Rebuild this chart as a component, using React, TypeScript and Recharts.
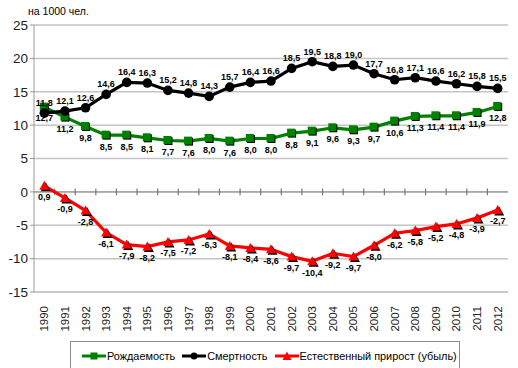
import { LineChart, Line, XAxis, YAxis, CartesianGrid, ReferenceLine, LabelList } from "recharts";

const years = [
  "1990", "1991", "1992", "1993", "1994", "1995", "1996", "1997", "1998", "1999", "2000", "2001",
  "2002", "2003", "2004", "2005", "2006", "2007", "2008", "2009", "2010", "2011", "2012",
];
const birth = [12.7, 11.2, 9.8, 8.5, 8.5, 8.1, 7.7, 7.6, 8.0, 7.6, 8.0, 8.0, 8.8, 9.1, 9.6, 9.3, 9.7, 10.6, 11.3, 11.4, 11.4, 11.9, 12.8];
const death = [11.8, 12.1, 12.6, 14.6, 16.4, 16.3, 15.2, 14.8, 14.3, 15.7, 16.4, 16.6, 18.5, 19.5, 18.8, 19.0, 17.7, 16.8, 17.1, 16.6, 16.2, 15.8, 15.5];
const natural = [0.9, -0.9, -2.8, -6.1, -7.9, -8.2, -7.5, -7.2, -6.3, -8.1, -8.4, -8.6, -9.7, -10.4, -9.2, -9.7, -8.0, -6.2, -5.8, -5.2, -4.8, -3.9, -2.7];
const yTicks = [-15, -10, -5, 0, 5, 10, 15, 20, 25];
const seriesNames = ["Рождаемость", "Смертность", "Естественный прирост (убыль)"];
const unitLabel = "на 1000 чел.";

const data = years.map((y, i) => ({ idx: i, year: y, birth: birth[i], death: death[i], natural: natural[i] }));
const xTicks = years.map((_, i) => i);

const GREEN = "#008000";
const RED = "#ff0000";
const FONT = "'Liberation Sans', Arial, sans-serif";

const fmt = (v: any) => Number(v).toFixed(1).replace(".", ",");

const SquareDot = (p: any) => {
  const { cx, cy } = p;
  if (cx == null || cy == null) return null;
  return (
    <g key={p.key}>
      <rect x={cx - 3.5} y={cy - 3.5} width={8} height={8} fill="#000" />
      <rect x={cx - 4.5} y={cy - 4.5} width={8} height={8} fill={GREEN} />
    </g>
  );
};

const CircleDot = (p: any) => {
  const { cx, cy } = p;
  if (cx == null || cy == null) return null;
  return <circle key={p.key} cx={cx} cy={cy} r={4.8} fill="#000" />;
};

const TriDot = (p: any) => {
  const { cx, cy } = p;
  if (cx == null || cy == null) return null;
  const tri = (x: number, y: number) => `${x},${y - 5} ${x + 5},${y + 4} ${x - 5},${y + 4}`;
  return (
    <g key={p.key}>
      <polygon points={tri(cx + 1.5, cy + 1.5)} fill="#000" />
      <polygon points={tri(cx, cy)} fill={RED} />
    </g>
  );
};

const YearTick = (p: any) => {
  const { x, y, payload } = p;
  return (
    <text
      x={x}
      y={y + 6}
      transform={`rotate(-90, ${x}, ${y + 6})`}
      textAnchor="end"
      dominantBaseline="central"
      fontSize={11.5}
      fontFamily={FONT}
      fill="#222"
    >
      {years[payload.value]}
    </text>
  );
};

const labelStyle = { fontSize: 9, fontWeight: 700, fontFamily: FONT, fill: "#000" };

function LegendBox() {
  const icon = (kind: string, color: string) => (
    <svg width={24} height={10} style={{ marginRight: 1 }}>
      <line x1={0} y1={5} x2={24} y2={5} stroke={color} strokeWidth={3} />
      {kind === "square" && <rect x={8.5} y={1.5} width={7} height={7} fill={color} />}
      {kind === "circle" && <circle cx={12} cy={5} r={3.5} fill={color} />}
      {kind === "tri" && <polygon points="12,0.5 16.5,9 7.5,9" fill={color} />}
    </svg>
  );
  const item = { display: "flex", alignItems: "center", marginRight: 7 };
  return (
    <div
      style={{
        position: "absolute",
        left: 70,
        top: 341,
        width: 390,
        height: 40,
        border: "1px solid #8c8c8c",
        boxSizing: "border-box",
        fontFamily: FONT,
        fontSize: 10.9,
        color: "#000",
        display: "flex",
        alignItems: "flex-start",
        paddingTop: 8,
        paddingLeft: 11,
        whiteSpace: "nowrap",
      }}
    >
      <div style={item}>{icon("square", GREEN)}{seriesNames[0]}</div>
      <div style={item}>{icon("circle", "#000")}{seriesNames[1]}</div>
      <div style={item}>{icon("tri", RED)}{seriesNames[2]}</div>
    </div>
  );
}

export default function App() {
  return (
    <div style={{ position: "absolute", left: 0, top: 0, width: 518, height: 368, overflow: "hidden", background: "#fff" }}>
      <div style={{ position: "absolute", left: 28, top: 5, fontFamily: FONT, fontSize: 10.5, color: "#000" }}>{unitLabel}</div>
      <LineChart width={518} height={368} data={data} margin={{ top: 25, right: 10, bottom: 0, left: 0 }}>
        <CartesianGrid vertical={false} stroke="#c4c4c4" strokeWidth={1.5} />
        <XAxis
          dataKey="idx"
          type="number"
          domain={[-0.5, 22.5]}
          ticks={xTicks}
          interval={0}
          height={76}
          axisLine={{ stroke: "#c4c4c4", strokeWidth: 1.5 }}
          tickLine={false}
          tick={<YearTick />}
        />
        <YAxis
          domain={[-15, 25]}
          ticks={yTicks}
          width={34}
          interval={0}
          axisLine={{ stroke: "#999" }}
          tickLine={{ stroke: "#999" }}
          tickSize={4}
          tick={{ fontSize: 13.5, fontFamily: FONT, fill: "#222" }}
        />
        <ReferenceLine y={0} stroke="#999" strokeWidth={1.2} />
        {years.slice(1).map((_, i) => (
          <ReferenceLine
            key={i}
            segment={[{ x: i + 0.5, y: 0.5 }, { x: i + 0.5, y: -0.5 }]}
            stroke="#777"
            strokeWidth={1.2}
          />
        ))}
        <Line dataKey="natural" stroke={RED} strokeWidth={3.2} dot={<TriDot />} isAnimationActive={false}>
          <LabelList dataKey="natural" position="bottom" offset={8} formatter={fmt} style={labelStyle} />
        </Line>
        <Line dataKey="birth" stroke={GREEN} strokeWidth={3.2} dot={<SquareDot />} isAnimationActive={false}>
          <LabelList dataKey="birth" position="bottom" offset={8} formatter={fmt} style={labelStyle} />
        </Line>
        <Line dataKey="death" stroke="#000" strokeWidth={3.2} dot={<CircleDot />} isAnimationActive={false}>
          <LabelList dataKey="death" position="top" offset={7} formatter={fmt} style={labelStyle} />
        </Line>
      </LineChart>
      <LegendBox />
    </div>
  );
}
